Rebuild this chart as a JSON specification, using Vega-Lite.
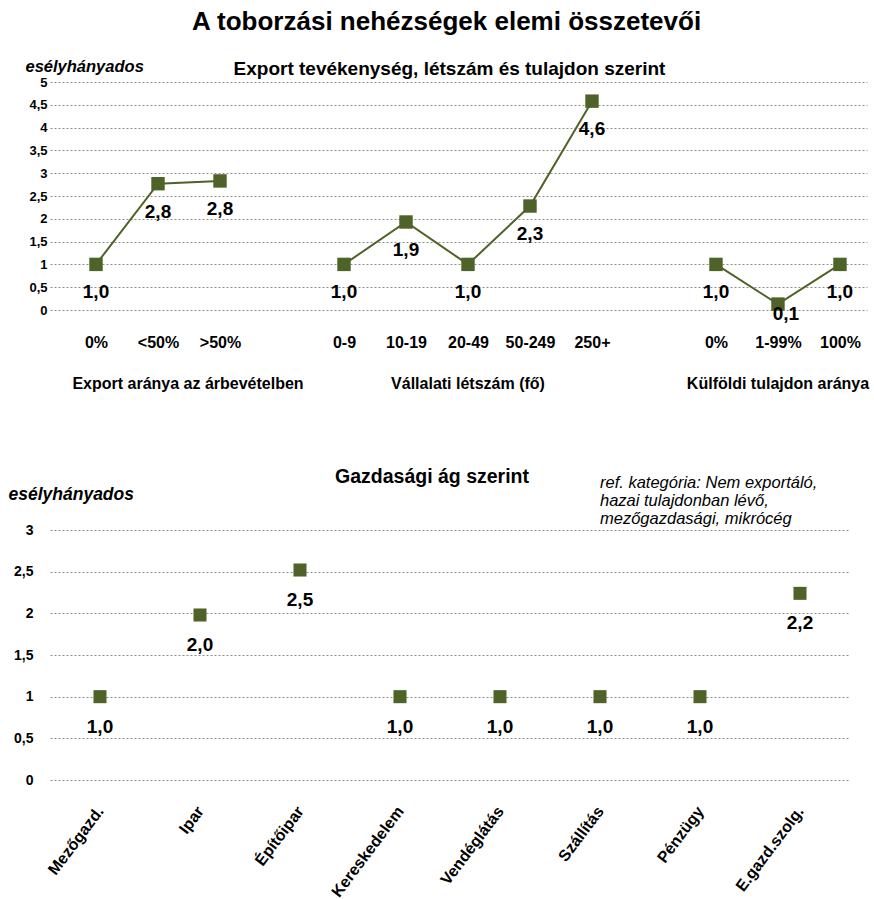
{
  "$schema": "https://vega.github.io/schema/vega-lite/v6.json",
  "padding": {"left": 8, "top": 9, "right": 0, "bottom": 0},
  "title": {"text": "A toborzási nehézségek elemi összetevői", "fontSize": 26, "fontWeight": "bold", "font": "Liberation Sans", "anchor": "middle", "color": "#000000", "offset": 23, "dx": 8},
  "config": {
    "font": "Liberation Sans",
    "view": {"stroke": null},
    "locale": {"number": {"decimal": ",", "thousands": " ", "grouping": [3], "currency": ["", " Ft"]}},
    "axis": {"labelColor": "#000000", "titleColor": "#000000", "labelFontWeight": "bold", "domain": false, "ticks": false, "gridColor": "#8c8c8c", "gridDash": [2, 2], "gridWidth": 1}
  },
  "spacing": 74,
  "vconcat": [
    {
      "width": 817,
      "height": 228,
      "title": {"text": "Export tevékenység, létszám és tulajdon szerint", "fontSize": 19, "fontWeight": "bold", "anchor": "middle", "dx": -9, "offset": -21, "color": "#000000"},
      "data": {"values": [
        {"kind": "value", "group": "Export", "key": "Export|0%", "value": 1.0},
        {"kind": "value", "group": "Export", "key": "Export|<50%", "value": 2.77},
        {"kind": "value", "group": "Export", "key": "Export|>50%", "value": 2.83},
        {"kind": "value", "group": "Létszám", "key": "Létszám|0-9", "value": 1.0},
        {"kind": "value", "group": "Létszám", "key": "Létszám|10-19", "value": 1.93},
        {"kind": "value", "group": "Létszám", "key": "Létszám|20-49", "value": 1.0},
        {"kind": "value", "group": "Létszám", "key": "Létszám|50-249", "value": 2.28},
        {"kind": "value", "group": "Létszám", "key": "Létszám|250+", "value": 4.58},
        {"kind": "value", "group": "Tulajdon", "key": "Tulajdon|0%", "value": 1.0},
        {"kind": "value", "group": "Tulajdon", "key": "Tulajdon|1-99%", "value": 0.13},
        {"kind": "value", "group": "Tulajdon", "key": "Tulajdon|100%", "value": 1.0},
        {"kind": "grouplabel", "group": "Export", "key": "Export|<50%", "label": "Export aránya az árbevételben"},
        {"kind": "grouplabel", "group": "Létszám", "key": "Létszám|20-49", "label": "Vállalati létszám (fő)"},
        {"kind": "grouplabel", "group": "Tulajdon", "key": "Tulajdon|1-99%", "label": "Külföldi tulajdon aránya"}
      ]},
      "encoding": {
        "x": {"field": "key", "type": "ordinal", "sort": null,
          "scale": {"domain": ["Export|0%", "Export|<50%", "Export|>50%", "gap1", "Létszám|0-9", "Létszám|10-19", "Létszám|20-49", "Létszám|50-249", "Létszám|250+", "gap2", "Tulajdon|0%", "Tulajdon|1-99%", "Tulajdon|100%"], "padding": 0.589, "align": 0.63},
          "axis": {"title": null, "labelAngle": 0, "labelFontSize": 16, "labelPadding": 24, "grid": false,
            "labelExpr": "indexof(datum.label, '|') >= 0 ? split(datum.label, '|')[1] : ''"}}
      },
      "layer": [
        {"transform": [{"filter": "datum.kind == 'value'"}],
          "mark": {"type": "line", "color": "#4F6228", "strokeWidth": 2},
          "encoding": {"detail": {"field": "group"},
            "y": {"field": "value", "type": "quantitative", "scale": {"domain": [0, 5], "nice": false},
              "axis": {"values": [0, 0.5, 1, 1.5, 2, 2.5, 3, 3.5, 4, 4.5, 5], "format": "~g", "grid": true, "labelFontSize": 13, "labelPadding": 3,
                "title": "esélyhányados", "titleAngle": 0, "titleAlign": "left", "titleBaseline": "alphabetic", "titleX": -25, "titleY": -11,
                "titleFontSize": 16.5, "titleFontStyle": "italic", "titleFontWeight": "bold"}}}},
        {"transform": [{"filter": "datum.kind == 'value'"}],
          "mark": {"type": "point", "shape": "square", "filled": true, "color": "#4F6228", "opacity": 1, "size": 180},
          "encoding": {
            "y": {"field": "value", "type": "quantitative", "scale": {"domain": [0, 5], "nice": false},
              "axis": {"values": [0, 0.5, 1, 1.5, 2, 2.5, 3, 3.5, 4, 4.5, 5], "format": "~g", "grid": true, "labelFontSize": 13, "labelPadding": 3,
                "title": "esélyhányados", "titleAngle": 0, "titleAlign": "left", "titleBaseline": "alphabetic", "titleX": -25, "titleY": -11,
                "titleFontSize": 16.5, "titleFontStyle": "italic", "titleFontWeight": "bold"}}}},
        {"transform": [{"filter": "datum.kind == 'value' && datum.key != 'Tulajdon|1-99%'"}],
          "mark": {"type": "text", "fontSize": 19, "fontWeight": "bold", "dy": 28, "color": "#000000"},
          "encoding": {"text": {"field": "value", "type": "quantitative", "format": ".1f"},
            "y": {"field": "value", "type": "quantitative", "scale": {"domain": [0, 5], "nice": false},
              "axis": {"values": [0, 0.5, 1, 1.5, 2, 2.5, 3, 3.5, 4, 4.5, 5], "format": "~g", "grid": true, "labelFontSize": 13, "labelPadding": 3,
                "title": "esélyhányados", "titleAngle": 0, "titleAlign": "left", "titleBaseline": "alphabetic", "titleX": -25, "titleY": -11,
                "titleFontSize": 16.5, "titleFontStyle": "italic", "titleFontWeight": "bold"}}}},
        {"transform": [{"filter": "datum.kind == 'value' && datum.key == 'Tulajdon|1-99%'"}],
          "mark": {"type": "text", "fontSize": 19, "fontWeight": "bold", "dy": 10, "dx": 8, "color": "#000000"},
          "encoding": {"text": {"field": "value", "type": "quantitative", "format": ".1f"},
            "y": {"field": "value", "type": "quantitative", "scale": {"domain": [0, 5], "nice": false},
              "axis": {"values": [0, 0.5, 1, 1.5, 2, 2.5, 3, 3.5, 4, 4.5, 5], "format": "~g", "grid": true, "labelFontSize": 13, "labelPadding": 3,
                "title": "esélyhányados", "titleAngle": 0, "titleAlign": "left", "titleBaseline": "alphabetic", "titleX": -25, "titleY": -11,
                "titleFontSize": 16.5, "titleFontStyle": "italic", "titleFontWeight": "bold"}}}},
        {"transform": [{"filter": "datum.kind == 'grouplabel' && datum.group == 'Export'"}],
          "mark": {"type": "text", "fontSize": 16, "fontWeight": "bold", "dx": 30, "dy": 74, "color": "#000000"},
          "encoding": {"text": {"field": "label", "type": "nominal"},
            "y": {"datum": 0, "type": "quantitative", "scale": {"domain": [0, 5], "nice": false},
              "axis": {"values": [0, 0.5, 1, 1.5, 2, 2.5, 3, 3.5, 4, 4.5, 5], "format": "~g", "grid": true, "labelFontSize": 13, "labelPadding": 3,
                "title": "esélyhányados", "titleAngle": 0, "titleAlign": "left", "titleBaseline": "alphabetic", "titleX": -25, "titleY": -11,
                "titleFontSize": 16.5, "titleFontStyle": "italic", "titleFontWeight": "bold"}}}},
        {"transform": [{"filter": "datum.kind == 'grouplabel' && datum.group != 'Export'"}],
          "mark": {"type": "text", "fontSize": 16, "fontWeight": "bold", "dy": 74, "color": "#000000"},
          "encoding": {"text": {"field": "label", "type": "nominal"},
            "y": {"datum": 0, "type": "quantitative", "scale": {"domain": [0, 5], "nice": false},
              "axis": {"values": [0, 0.5, 1, 1.5, 2, 2.5, 3, 3.5, 4, 4.5, 5], "format": "~g", "grid": true, "labelFontSize": 13, "labelPadding": 3,
                "title": "esélyhányados", "titleAngle": 0, "titleAlign": "left", "titleBaseline": "alphabetic", "titleX": -25, "titleY": -11,
                "titleFontSize": 16.5, "titleFontStyle": "italic", "titleFontWeight": "bold"}}}}
      ]
    },
    {
      "width": 800,
      "height": 250,
      "title": {"text": "Gazdasági ág szerint", "fontSize": 19.5, "fontWeight": "bold", "anchor": "middle", "dx": -18, "offset": -12, "color": "#000000"},
      "data": {"values": [
        {"kind": "value", "sector": "Mezőgazd.", "value": 1.0},
        {"kind": "value", "sector": "Ipar", "value": 1.98},
        {"kind": "value", "sector": "Építőipar", "value": 2.52},
        {"kind": "value", "sector": "Kereskedelem", "value": 1.0},
        {"kind": "value", "sector": "Vendéglátás", "value": 1.0},
        {"kind": "value", "sector": "Szállítás", "value": 1.0},
        {"kind": "value", "sector": "Pénzügy", "value": 1.0},
        {"kind": "value", "sector": "E.gazd.szolg.", "value": 2.24},
        {"kind": "note", "sector": "Szállítás", "note": "ref. kategória: Nem exportáló, hazai tulajdonban lévő, mezőgazdasági, mikrócég"}
      ]},
      "encoding": {
        "x": {"field": "sector", "type": "ordinal", "sort": null,
          "scale": {"domain": ["Mezőgazd.", "Ipar", "Építőipar", "Kereskedelem", "Vendéglátás", "Szállítás", "Pénzügy", "E.gazd.szolg."], "padding": 0.5},
          "axis": {"title": null, "labelAngle": -53, "labelAlign": "right", "labelBaseline": "middle", "labelFontSize": 16, "labelPadding": 28, "grid": false}}
      },
      "layer": [
        {"transform": [{"filter": "datum.kind == 'value'"}],
          "mark": {"type": "point", "shape": "square", "filled": true, "color": "#4F6228", "opacity": 1, "size": 170},
          "encoding": {"y": {"field": "value", "type": "quantitative", "scale": {"domain": [0, 3], "nice": false},
            "axis": {"values": [0, 0.5, 1, 1.5, 2, 2.5, 3], "format": "~g", "grid": true, "labelFontSize": 14, "labelPadding": 17,
              "title": "esélyhányados", "titleAngle": 0, "titleAlign": "left", "titleBaseline": "alphabetic", "titleX": -42, "titleY": -31,
              "titleFontSize": 17.5, "titleFontStyle": "italic", "titleFontWeight": "bold"}}}},
        {"transform": [{"filter": "datum.kind == 'value'"}],
          "mark": {"type": "text", "fontSize": 19, "fontWeight": "bold", "dy": 30, "color": "#000000"},
          "encoding": {"text": {"field": "value", "type": "quantitative", "format": ".1f"},
            "y": {"field": "value", "type": "quantitative", "scale": {"domain": [0, 3], "nice": false},
            "axis": {"values": [0, 0.5, 1, 1.5, 2, 2.5, 3], "format": "~g", "grid": true, "labelFontSize": 14, "labelPadding": 17,
              "title": "esélyhányados", "titleAngle": 0, "titleAlign": "left", "titleBaseline": "alphabetic", "titleX": -42, "titleY": -31,
              "titleFontSize": 17.5, "titleFontStyle": "italic", "titleFontWeight": "bold"}}}},
        {"transform": [{"filter": "datum.kind == 'note'"}],
          "mark": {"type": "text", "align": "left", "baseline": "top", "dy": -55, "fontSize": 16.5, "fontStyle": "italic", "lineHeight": 18, "color": "#000000",
            "text": ["ref. kategória: Nem exportáló,", "hazai tulajdonban lévő,", "mezőgazdasági,  mikrócég"]},
          "encoding": {"y": {"datum": 3, "type": "quantitative", "scale": {"domain": [0, 3], "nice": false},
            "axis": {"values": [0, 0.5, 1, 1.5, 2, 2.5, 3], "format": "~g", "grid": true, "labelFontSize": 14, "labelPadding": 17,
              "title": "esélyhányados", "titleAngle": 0, "titleAlign": "left", "titleBaseline": "alphabetic", "titleX": -42, "titleY": -31,
              "titleFontSize": 17.5, "titleFontStyle": "italic", "titleFontWeight": "bold"}}}}
      ]
    }
  ]
}
